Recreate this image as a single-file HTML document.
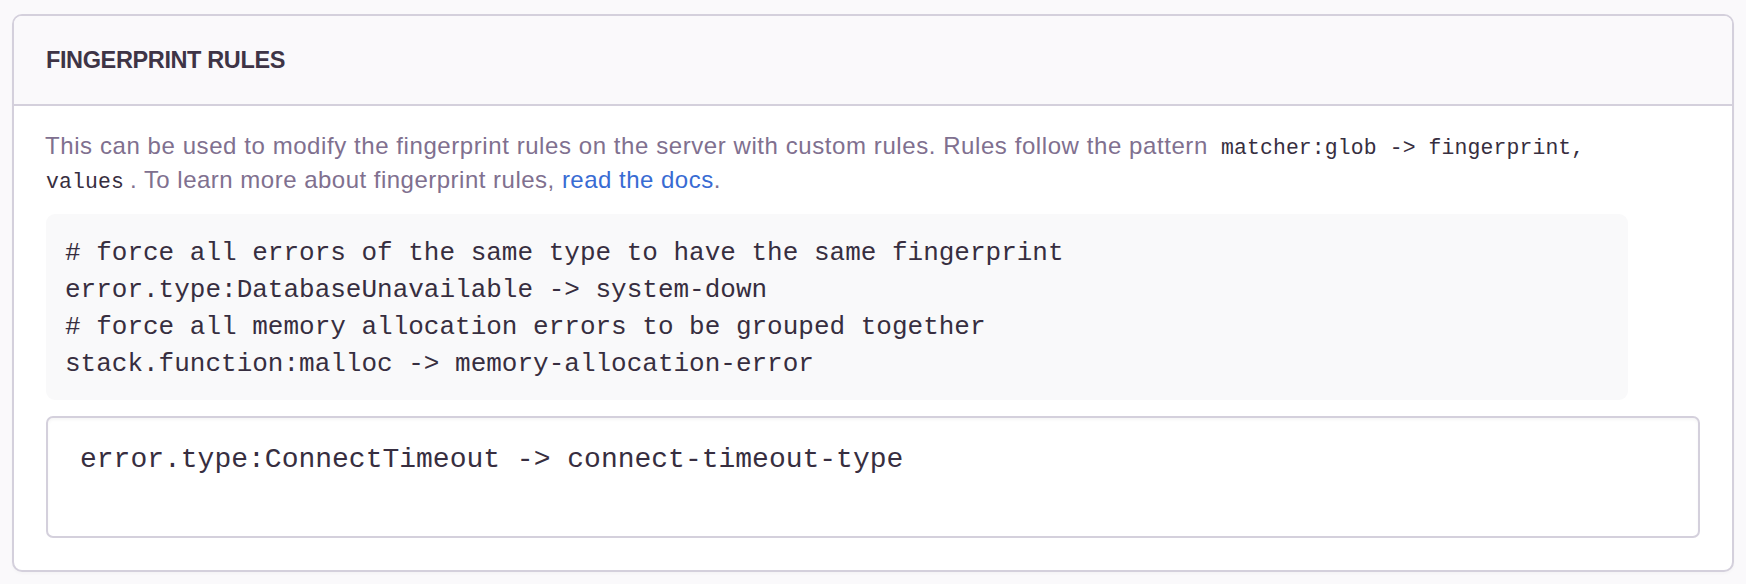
<!DOCTYPE html>
<html><head><meta charset="utf-8">
<style>
html,body{margin:0;padding:0;width:1746px;height:584px;overflow:hidden;background:#FAF9FB;}
body{position:relative;font-family:"Liberation Sans",sans-serif;}
.panel{position:absolute;left:12px;top:14px;width:1718px;height:554px;border:2px solid #D4D0DC;border-radius:10px;background:#fff;box-shadow:0 2px 3px rgba(0,0,0,0.025);overflow:hidden;}
.hdr{position:absolute;left:0;top:0;width:1718px;height:88px;background:#FAF9FB;border-bottom:2px solid #D4D0DC;}
.t{position:absolute;white-space:pre;line-height:40px;height:40px;}
.h{font-weight:bold;font-size:23.5px;color:#3E3446;letter-spacing:-0.38px;}
.p{font-size:24px;color:#80708F;letter-spacing:0.575px;}
.c{font-family:"Liberation Mono",monospace;font-size:21.43px;color:#372E40;letter-spacing:0.12px;}
.a{color:#386BD3;}
.code{position:absolute;left:32px;top:198px;width:1582px;height:186px;background:#F9F9FA;border-radius:9px;}
.cl{font-family:"Liberation Mono",monospace;font-size:26px;color:#372E40;}
.ta{position:absolute;left:32px;top:400px;width:1650px;height:118px;border:2px solid #D4D0DC;border-radius:7px;background:#fff;box-shadow:inset 0 2px 3px rgba(0,0,0,0.04);}
.tl{font-family:"Liberation Mono",monospace;font-size:28px;color:#372E40;}
</style></head>
<body>
<div class="panel">
  <div class="hdr"></div>
</div>
<!-- text positioned in page coords -->
<div class="t h" style="left:46px;top:40px;">FINGERPRINT RULES</div>
<div class="t p" style="left:45px;top:126px;">This can be used to modify the fingerprint rules on the server with custom rules. Rules follow the pattern</div>
<div class="t c" style="left:1221px;top:128px;">matcher:glob -&gt; fingerprint,</div>
<div class="t c" style="left:46px;top:162px;">values</div>
<div class="t p" style="left:130px;top:160px;letter-spacing:0.49px;">. To learn more about fingerprint rules, <span class="a">read the docs</span>.</div>
<div class="code" style="left:46px;top:214px;"></div>
<div class="t cl" style="left:65px;top:233px;">#&#160;force all errors of the same type to have the same fingerprint</div>
<div class="t cl" style="left:65px;top:270px;">error.type:DatabaseUnavailable -&gt; system-down</div>
<div class="t cl" style="left:65px;top:307px;">#&#160;force all memory allocation errors to be grouped together</div>
<div class="t cl" style="left:65px;top:344px;">stack.function:malloc -&gt; memory-allocation-error</div>
<div class="ta" style="left:46px;top:416px;"></div>
<div class="t tl" style="left:80px;top:440px;">error.type:ConnectTimeout -&gt; connect-timeout-type</div>
</body></html>
